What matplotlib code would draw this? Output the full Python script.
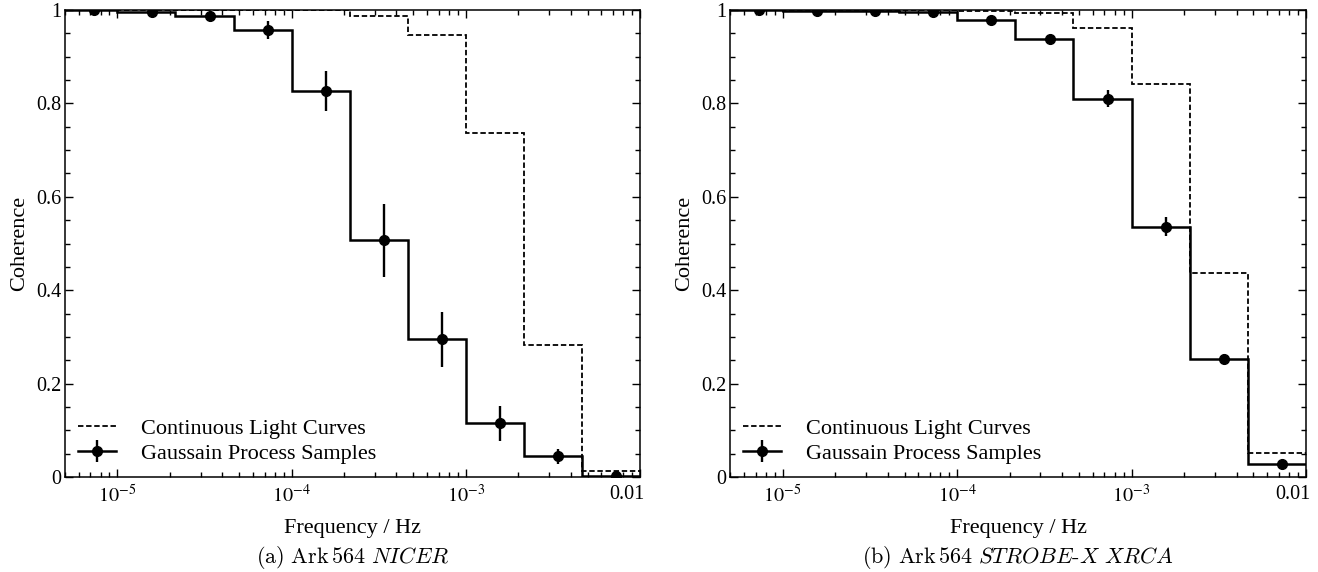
import matplotlib
matplotlib.use("Agg")
import matplotlib.pyplot as plt
from matplotlib.lines import Line2D
from matplotlib.legend_handler import HandlerTuple
from matplotlib.ticker import FixedLocator, LogLocator, MultipleLocator, NullFormatter
from matplotlib.transforms import ScaledTranslation
import numpy as np

plt.rcParams['font.family'] = ['Liberation Serif', 'DejaVu Serif']
plt.rcParams['mathtext.fontset'] = 'stix'
plt.rcParams['font.size'] = 16

# frequency bin edges (Hz), three bins per decade
bin_edges = [4.64e-6, 1.0e-5, 2.15e-5, 4.64e-5, 1.0e-4, 2.15e-4,
             4.64e-4, 1.0e-3, 2.15e-3, 4.64e-3, 1.0e-2]

# Ark 564, NICER sampling
nicer_gp = [0.999, 0.996, 0.987, 0.957, 0.826, 0.507, 0.295, 0.115, 0.044, 0.003]
nicer_gp_err = [0.002, 0.003, 0.006, 0.019, 0.043, 0.078, 0.059, 0.038, 0.016, 0.003]
nicer_cont = [1.0, 1.0, 1.0, 1.0, 0.999, 0.987, 0.946, 0.737, 0.283, 0.013]

# Ark 564, STROBE-X XRCA sampling
xrca_gp = [0.999, 0.998, 0.997, 0.995, 0.979, 0.937, 0.810, 0.536, 0.253, 0.027]
xrca_gp_err = [0.001, 0.001, 0.002, 0.003, 0.005, 0.006, 0.018, 0.021, 0.011, 0.004]
xrca_cont = [1.0, 1.0, 1.0, 0.999, 0.998, 0.994, 0.961, 0.842, 0.437, 0.051]

captions = [r'$\mathrm{(a)\ Ark\,564}\ NICER$',
            r'$\mathrm{(b)\ Ark\,564}\ STROBE\text{-}X\ XRCA$']

xtick_vals = [1e-5, 1e-4, 1e-3, 1e-2]
xtick_labels = [r'$10^{-5}$', r'$10^{-4}$', r'$10^{-3}$', '0.01']
ytick_vals = [0, 0.2, 0.4, 0.6, 0.8, 1.0]
ytick_labels = ['0', '0.2', '0.4', '0.6', '0.8', '1']

DASH = (0, (3, 1.5))


def coherence_panel(ax, gp, gp_err, cont):
    edges = np.array(bin_edges)
    centres = 0.5 * (edges[:-1] + edges[1:])

    ax.stairs(cont, edges, baseline=None, color='k', lw=1.3, ls=DASH)
    ax.stairs(gp, edges, baseline=None, color='k', lw=1.8)
    eb = ax.errorbar(centres, gp, yerr=gp_err, fmt='o', color='k', ms=7,
                     elinewidth=1.7, capsize=0)

    ax.set_xscale('log')
    ax.set_xlim(5e-6, 1e-2)
    ax.set_ylim(0, 1)
    ax.xaxis.set_major_locator(FixedLocator(xtick_vals))
    ax.set_xticklabels(xtick_labels)
    ax.xaxis.set_minor_locator(LogLocator(base=10, subs=np.arange(2, 10)))
    ax.xaxis.set_minor_formatter(NullFormatter())
    ax.set_yticks(ytick_vals)
    ax.set_yticklabels(ytick_labels)
    ax.yaxis.set_minor_locator(MultipleLocator(0.05))
    ax.tick_params(which='both', direction='in', top=True, right=True,
                   labelsize=14.5)
    ax.tick_params(which='major', length=6, width=1.0)
    ax.tick_params(which='minor', length=3.5, width=1.0)
    ax.tick_params(axis='x', which='major', pad=6)
    ax.tick_params(axis='y', which='major', pad=2.5)
    for s in ax.spines.values():
        s.set_linewidth(1.1)

    # keep the last frequency label inside the panel edge
    last = ax.get_xticklabels()[-1]
    last.set_transform(last.get_transform()
                       + ScaledTranslation(-0.13, 0, ax.figure.dpi_scale_trans))

    ax.set_xlabel('Frequency / Hz', labelpad=8)
    ax.set_ylabel('Coherence', labelpad=5)

    dashed = Line2D([], [], color='k', lw=1.3, ls=DASH)
    solid = Line2D([], [], color='k', lw=1.8)
    ax.legend([dashed, (solid, eb)],
              ['Continuous Light Curves', 'Gaussain Process Samples'],
              handler_map={tuple: HandlerTuple(ndivide=1)},
              loc='lower left', frameon=False, handlelength=1.7,
              handletextpad=1.1, labelspacing=0.2, borderaxespad=0.2)


fig = plt.figure(figsize=(13.18, 5.72), dpi=100)
ax1 = fig.add_axes([0.0493, 0.1661, 0.4363, 0.8164])
ax2 = fig.add_axes([0.5539, 0.1661, 0.4370, 0.8164])

coherence_panel(ax1, nicer_gp, nicer_gp_err, nicer_cont)
coherence_panel(ax2, xrca_gp, xrca_gp_err, xrca_cont)

for ax, cap in zip([ax1, ax2], captions):
    pos = ax.get_position()
    fig.text(0.5 * (pos.x0 + pos.x1), 0.026, cap, ha='center', va='center',
             fontsize=16, math_fontfamily='cm')

fig.savefig('out.png', dpi=100)
